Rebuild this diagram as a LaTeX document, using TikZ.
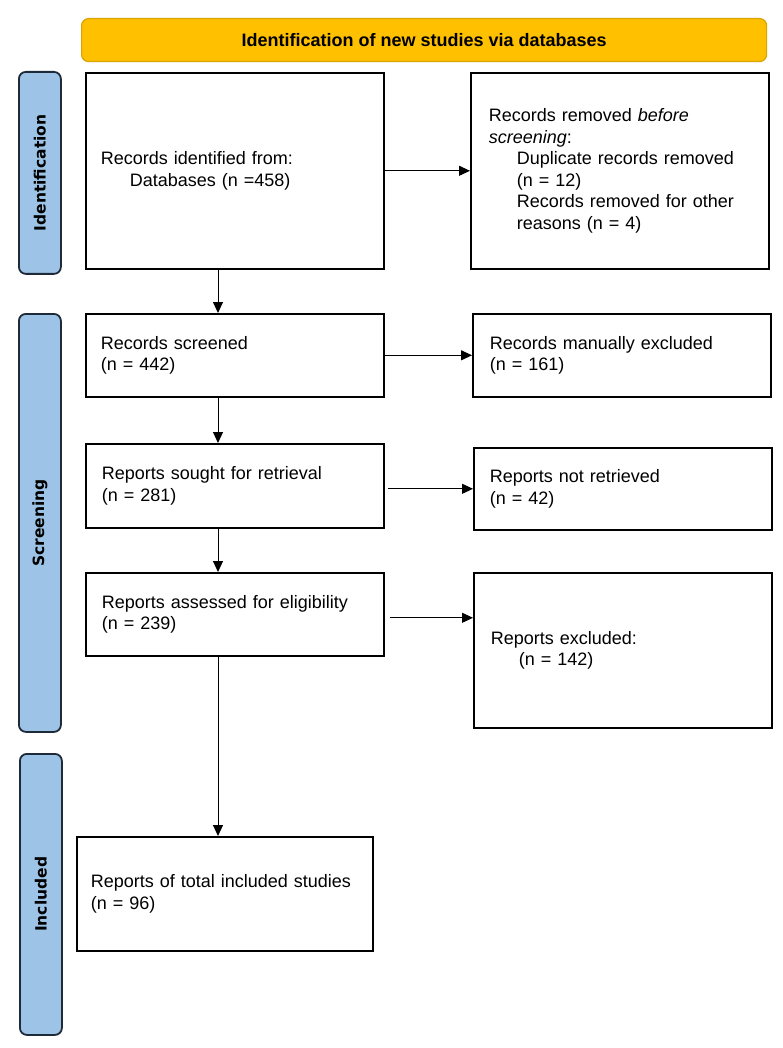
\documentclass[tikz,border=0pt]{standalone}
\usepackage{fontspec}
\setmainfont{Liberation Sans}
\newfontfamily\sidefont{DejaVu Sans}
\usetikzlibrary{arrows.meta}
\definecolor{gold}{HTML}{FFC000}
\definecolor{goldedge}{HTML}{D9A300}
\definecolor{lblue}{HTML}{9DC3E6}
\definecolor{bedge}{HTML}{1F2A38}
\begin{document}
\begin{tikzpicture}[x=1pt,y=-1pt,
  txt/.style={font=\fontsize{18}{21.5}\selectfont},
  flowbox/.style={draw=black, line width=1.6pt, fill=white, anchor=north west, align=left, inner ysep=0pt, txt},
  phase/.style={draw=bedge, line width=1.8pt, fill=lblue, rounded corners=7pt, anchor=north west, minimum width=42pt, inner sep=0pt},
  phasetxt/.style={font=\sidefont\bfseries\fontsize{15.5}{18}\selectfont, rotate=90},
  arr/.style={line width=1pt, -{Triangle[length=11pt,width=10pt]}}
]
\fill[white] (0,0) rectangle (783,1048);
\useasboundingbox (0,0) rectangle (783,1048);

% title bar
\node[draw=goldedge, line width=1.2pt, fill=gold, rounded corners=7pt, anchor=north west,
      minimum width=685pt, minimum height=43pt, inner sep=0pt,
      font=\bfseries\fontsize{18}{21.5}\selectfont] (title) at (81,18) {Identification of new studies via databases};

% phase bars
\node[phase, minimum height=202pt] (pid) at (18,71) {};
\node[phasetxt] at (pid.center) {Identification};
\node[phase, minimum height=418pt] (psc) at (18,313) {};
\node[phasetxt] at (psc.center) {Screening};
\node[phase, minimum height=281pt] (pin) at (19,753) {};
\node[phasetxt] at (pin.center) {Included};

% boxes
\node[flowbox, inner xsep=15pt, text width=268pt, minimum height=196pt] (b1) at (85,72)
  {Records identified from:\\\hspace*{29pt}Databases (n =458)};
\node[flowbox, inner xsep=18pt, text width=262pt, minimum height=196pt] (r1) at (470,72)
  {Records removed \textit{before}\\\textit{screening}:\\\hspace*{28pt}Duplicate records removed\\\hspace*{28pt}(n = 12)\\\hspace*{28pt}Records removed for other\\\hspace*{28pt}reasons (n = 4)};

\node[flowbox, inner xsep=15pt, text width=268pt, minimum height=83pt] (b2) at (85,313)
  {Records screened\\(n = 442)};
\node[flowbox, inner xsep=17pt, text width=264pt, minimum height=83pt] (r2) at (472,313)
  {Records manually excluded\\(n = 161)};

\node[flowbox, inner xsep=16pt, text width=266pt, minimum height=84pt] (b3) at (85,443)
  {Reports sought for retrieval\\(n = 281)};
\node[flowbox, inner xsep=16pt, text width=266pt, minimum height=82pt] (r3) at (473,447)
  {Reports not retrieved\\(n = 42)};

\node[flowbox, inner xsep=16pt, text width=266pt, minimum height=83pt] (b4) at (85,572)
  {Reports assessed for eligibility\\(n = 239)};
\node[flowbox, inner xsep=17pt, text width=264pt, minimum height=155pt] (r4) at (473,572)
  {Reports excluded:\\\hspace*{28pt}(n = 142)};

\node[flowbox, inner xsep=14pt, text width=268pt, minimum height=114pt] (b5) at (76,836)
  {Reports of total included studies\\(n = 96)};

% spine for vertical arrows
\coordinate (spine) at (218,0);

% horizontal arrows
\draw[arr] (b1.east) -- (r1.west);
\draw[arr] (b2.east) -- (r2.west);
\draw[arr] ([xshift=3pt]b3.east |- r3.west) -- (r3.west);
\draw[arr] ([xshift=5pt,yshift=-3.5pt]b4.east) -- ([yshift=-3.5pt]b4.east -| r4.west);

% vertical arrows
\draw[arr] (b1.south -| spine) -- (b2.north -| spine);
\draw[arr] (b2.south -| spine) -- (b3.north -| spine);
\draw[arr] (b3.south -| spine) -- (b4.north -| spine);
\draw[arr] (b4.south -| spine) -- (b5.north -| spine);
\end{tikzpicture}
\end{document}
